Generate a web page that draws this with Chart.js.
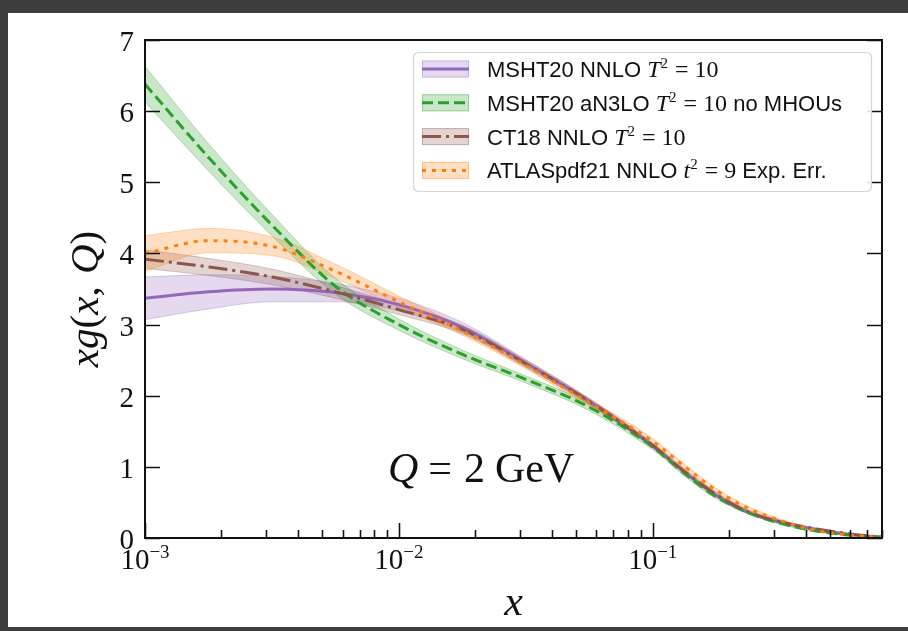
<!DOCTYPE html>
<html lang="en">
<head>
<meta charset="UTF-8" />
<title>Gluon PDF xg(x, Q) at Q = 2 GeV</title>
<script src="https://cdn.jsdelivr.net/npm/chart.js"></script>
<style>
  html, body { margin: 0; padding: 0; background: #fff; }
  #wrap { width: 908px; height: 631px; }
</style>
</head>
<body>
<div id="wrap"><canvas id="pdfChart" width="908" height="631"></canvas></div>
<script>
// x grid (log-spaced, finer above x = 0.1)
const xGrid = [0.001, 0.00178, 0.00316, 0.00562, 0.01, 0.0178, 0.0316, 0.0562, 0.1, 0.133, 0.178, 0.237, 0.316, 0.422, 0.562, 0.8];

// MSHT20 NNLO T^2 = 10
const mshtNnlo    = [3.37, 3.46, 3.50, 3.45, 3.28, 2.96, 2.46, 1.92, 1.30, 0.93, 0.60, 0.36, 0.23, 0.13, 0.06, 0.01];
const mshtNnloErr = [0.30, 0.24, 0.18, 0.13, 0.09, 0.07, 0.05, 0.04, 0.03, 0.025, 0.02, 0.015, 0.012, 0.008, 0.006, 0.003];
// MSHT20 aN3LO T^2 = 10, no MHOUs
const mshtN3lo    = [6.38, 5.35, 4.40, 3.54, 3.00, 2.58, 2.23, 1.84, 1.28, 0.91, 0.58, 0.36, 0.21, 0.11, 0.05, 0.01];
const mshtN3loErr = [0.25, 0.19, 0.15, 0.11, 0.08, 0.06, 0.05, 0.05, 0.04, 0.035, 0.03, 0.02, 0.015, 0.01, 0.006, 0.003];
// CT18 NNLO T^2 = 10
const ct18        = [3.92, 3.81, 3.67, 3.46, 3.21, 2.93, 2.45, 1.92, 1.30, 0.94, 0.61, 0.37, 0.23, 0.14, 0.07, 0.01];
const ct18Err     = [0.13, 0.12, 0.11, 0.09, 0.07, 0.06, 0.05, 0.04, 0.03, 0.03, 0.03, 0.025, 0.02, 0.015, 0.01, 0.004];
// ATLASpdf21 NNLO t^2 = 9, experimental error
const atlas       = [4.00, 4.18, 4.10, 3.75, 3.32, 2.91, 2.43, 1.90, 1.36, 1.01, 0.67, 0.42, 0.25, 0.12, 0.05, 0.005];
const atlasErr    = [0.25, 0.17, 0.13, 0.10, 0.08, 0.06, 0.05, 0.05, 0.04, 0.035, 0.03, 0.025, 0.02, 0.015, 0.01, 0.005];

const yTicks = [0, 1, 2, 3, 4, 5, 6, 7];
const xMajor = [-3, -2, -1];

const SERIF = '"Liberation Serif", "DejaVu Serif", serif';
const SANS = '"Liberation Sans", Arial, sans-serif';

const series = [
  { name: 'MSHT20 NNLO', vals: mshtNnlo, err: mshtNnloErr, color: '#9467bd', rgb: '148,103,189', dash: [], order: 4,
    legend: [['MSHT20 NNLO ', 'sans'], ['T', 'mi'], ['2', 'sup'], [' = 10', 'mr']] },
  { name: 'MSHT20 aN3LO', vals: mshtN3lo, err: mshtN3loErr, color: '#2ca02c', rgb: '44,160,44', dash: [11, 5], order: 3,
    legend: [['MSHT20 aN3LO ', 'sans'], ['T', 'mi'], ['2', 'sup'], [' = 10', 'mr'], [' no MHOUs', 'sans']] },
  { name: 'CT18 NNLO', vals: ct18, err: ct18Err, color: '#8c564b', rgb: '140,86,75', dash: [19, 5, 3, 5], order: 2,
    legend: [['CT18 NNLO ', 'sans'], ['T', 'mi'], ['2', 'sup'], [' = 10', 'mr']] },
  { name: 'ATLASpdf21 NNLO', vals: atlas, err: atlasErr, color: '#ff7f0e', rgb: '255,127,14', dash: [4, 6], order: 1,
    legend: [['ATLASpdf21 NNLO ', 'sans'], ['t', 'mi'], ['2', 'sup'], [' = 9', 'mr'], [' Exp. Err.', 'sans']] }
];

const datasets = [];
series.forEach(s => {
  datasets.push({
    label: s.name + ' upper',
    data: xGrid.map((x, i) => ({ x, y: s.vals[i] + s.err[i] })),
    borderWidth: 1, borderColor: 'rgba(' + s.rgb + ',0.3)',
    backgroundColor: 'rgba(' + s.rgb + ',0.25)',
    fill: '+1', pointRadius: 0, cubicInterpolationMode: 'monotone', order: 20 + s.order
  });
  datasets.push({
    label: s.name + ' lower',
    data: xGrid.map((x, i) => ({ x, y: s.vals[i] - s.err[i] })),
    borderWidth: 1, borderColor: 'rgba(' + s.rgb + ',0.3)',
    fill: false, pointRadius: 0, cubicInterpolationMode: 'monotone', order: 20 + s.order
  });
});
series.forEach(s => {
  datasets.push({
    label: s.name,
    data: xGrid.map((x, i) => ({ x, y: s.vals[i] })),
    borderColor: s.color, borderWidth: 3, borderDash: s.dash, borderCapStyle: 'butt',
    fill: false, pointRadius: 0, cubicInterpolationMode: 'monotone', order: s.order
  });
});

function runFont(kind) {
  switch (kind) {
    case 'sans': return '22px ' + SANS;
    case 'mi': return 'italic 24px ' + SERIF;
    case 'mr': return '24px ' + SERIF;
    case 'sup': return '15px ' + SERIF;
  }
}

function drawRuns(ctx, x, y, runs) {
  let cx = x;
  runs.forEach(r => {
    ctx.font = r.font;
    ctx.fillText(r.text, cx, y + (r.dy || 0));
    cx += ctx.measureText(r.text).width + (r.gap || 0);
  });
  return cx;
}

function runsWidth(ctx, runs) {
  let w = 0;
  runs.forEach(r => { ctx.font = r.font; w += ctx.measureText(r.text).width + (r.gap || 0); });
  return w;
}

const decor = {
  id: 'decor',
  beforeDraw(chart) {
    const ctx = chart.ctx;
    ctx.save();
    ctx.fillStyle = '#fff';
    ctx.fillRect(0, 0, chart.width, chart.height);
    ctx.fillStyle = '#3e3e3e';
    ctx.fillRect(0, 0, chart.width, 13);
    ctx.fillRect(0, 0, 8, chart.height);
    ctx.fillRect(0, chart.height - 4, chart.width, 4);
    ctx.restore();
  },
  afterDraw(chart) {
    const ctx = chart.ctx;
    const { left, right, top, bottom } = chart.chartArea;
    const xs = chart.scales.x, ys = chart.scales.y;
    ctx.save();
    ctx.strokeStyle = '#111';
    ctx.fillStyle = '#111';

    // frame
    ctx.lineWidth = 2;
    ctx.strokeRect(left, top, right - left, bottom - top);

    // y ticks, inward on both sides
    ctx.lineWidth = 1.6;
    ctx.textAlign = 'right';
    ctx.textBaseline = 'middle';
    ctx.font = '29px ' + SERIF;
    yTicks.forEach(v => {
      const py = Math.round(ys.getPixelForValue(v)) + 0.5;
      ctx.beginPath();
      ctx.moveTo(left, py); ctx.lineTo(left + 15, py);
      ctx.moveTo(right, py); ctx.lineTo(right - 15, py);
      ctx.stroke();
      ctx.fillText(String(v), left - 11, py + 3);
    });

    // x ticks, major and minor
    xMajor.forEach(d => {
      for (let k = 1; k <= 9; k++) {
        const v = k * Math.pow(10, d);
        if (v > xs.max) break;
        const px = Math.round(xs.getPixelForValue(v)) + 0.5;
        ctx.beginPath();
        ctx.moveTo(px, bottom); ctx.lineTo(px, bottom - (k === 1 ? 15 : 8));
        ctx.stroke();
      }
      const px = xs.getPixelForValue(Math.pow(10, d));
      const runs = [
        { text: '10', font: '29px ' + SERIF },
        { text: '\u2212' + (-d), font: '19px ' + SERIF, dy: -11 }
      ];
      ctx.textAlign = 'left';
      ctx.textBaseline = 'alphabetic';
      drawRuns(ctx, px - runsWidth(ctx, runs) / 2, 569, runs);
    });

    // axis titles
    ctx.textAlign = 'left';
    ctx.textBaseline = 'alphabetic';
    ctx.font = 'italic 42px ' + SERIF;
    const xw = ctx.measureText('x').width;
    ctx.fillText('x', (left + right) / 2 - xw / 2, 615);

    const yRuns = [
      { text: 'xg', font: 'italic 41px ' + SERIF },
      { text: '(', font: '41px ' + SERIF },
      { text: 'x', font: 'italic 41px ' + SERIF },
      { text: ', ', font: '41px ' + SERIF, gap: 2 },
      { text: 'Q', font: 'italic 41px ' + SERIF },
      { text: ')', font: '41px ' + SERIF }
    ];
    ctx.save();
    ctx.translate(98, (top + bottom) / 2 + 10);
    ctx.rotate(-Math.PI / 2);
    drawRuns(ctx, -runsWidth(ctx, yRuns) / 2, 0, yRuns);
    ctx.restore();

    // scale annotation
    drawRuns(ctx, 388, 482, [
      { text: 'Q', font: 'italic 42px ' + SERIF, gap: 10 },
      { text: '=', font: '42px ' + SERIF, gap: 12 },
      { text: '2', font: '42px ' + SERIF, gap: 10 },
      { text: 'GeV', font: '42px ' + SERIF }
    ]);

    // legend
    const lx = 413, ly = 52, lw = 458, lh = 139;
    ctx.beginPath();
    ctx.roundRect(lx + 0.5, ly + 0.5, lw, lh, 5);
    ctx.fillStyle = 'rgba(255,255,255,0.85)';
    ctx.fill();
    ctx.strokeStyle = '#d4d4d4';
    ctx.lineWidth = 1.2;
    ctx.stroke();

    series.forEach((s, i) => {
      const cy = 69 + i * 33.8;
      ctx.fillStyle = 'rgba(' + s.rgb + ',0.25)';
      ctx.fillRect(422, cy - 8.5, 47, 17);
      ctx.strokeStyle = 'rgba(' + s.rgb + ',0.35)';
      ctx.lineWidth = 1;
      ctx.strokeRect(422.5, cy - 8, 46, 16);
      ctx.beginPath();
      ctx.setLineDash(s.dash);
      ctx.lineCap = 'butt';
      ctx.strokeStyle = s.color;
      ctx.lineWidth = 3;
      ctx.moveTo(422, cy); ctx.lineTo(469, cy);
      ctx.stroke();
      ctx.setLineDash([]);

      ctx.fillStyle = '#111';
      const runs = s.legend.map(([t, k]) => ({ text: t, font: runFont(k), dy: k === 'sup' ? -9 : 0, gap: k === 'sup' ? 1 : 0 }));
      drawRuns(ctx, 487, cy + 8, runs);
    });
    ctx.restore();
  }
};

new Chart(document.getElementById('pdfChart'), {
  type: 'line',
  data: { datasets },
  options: {
    responsive: false,
    animation: false,
    devicePixelRatio: 1,
    layout: { padding: { left: 145, top: 40, right: 26, bottom: 93 } },
    plugins: { legend: { display: false }, tooltip: { enabled: false } },
    scales: {
      x: {
        type: 'logarithmic', min: 0.001, max: 0.8,
        ticks: { display: false },
        grid: { display: false, drawTicks: false, tickLength: 0 },
        border: { display: false }
      },
      y: {
        type: 'linear', min: 0, max: 7,
        ticks: { display: false },
        grid: { display: false, drawTicks: false, tickLength: 0 },
        border: { display: false }
      }
    }
  },
  plugins: [decor]
});
</script>
</body>
</html>
